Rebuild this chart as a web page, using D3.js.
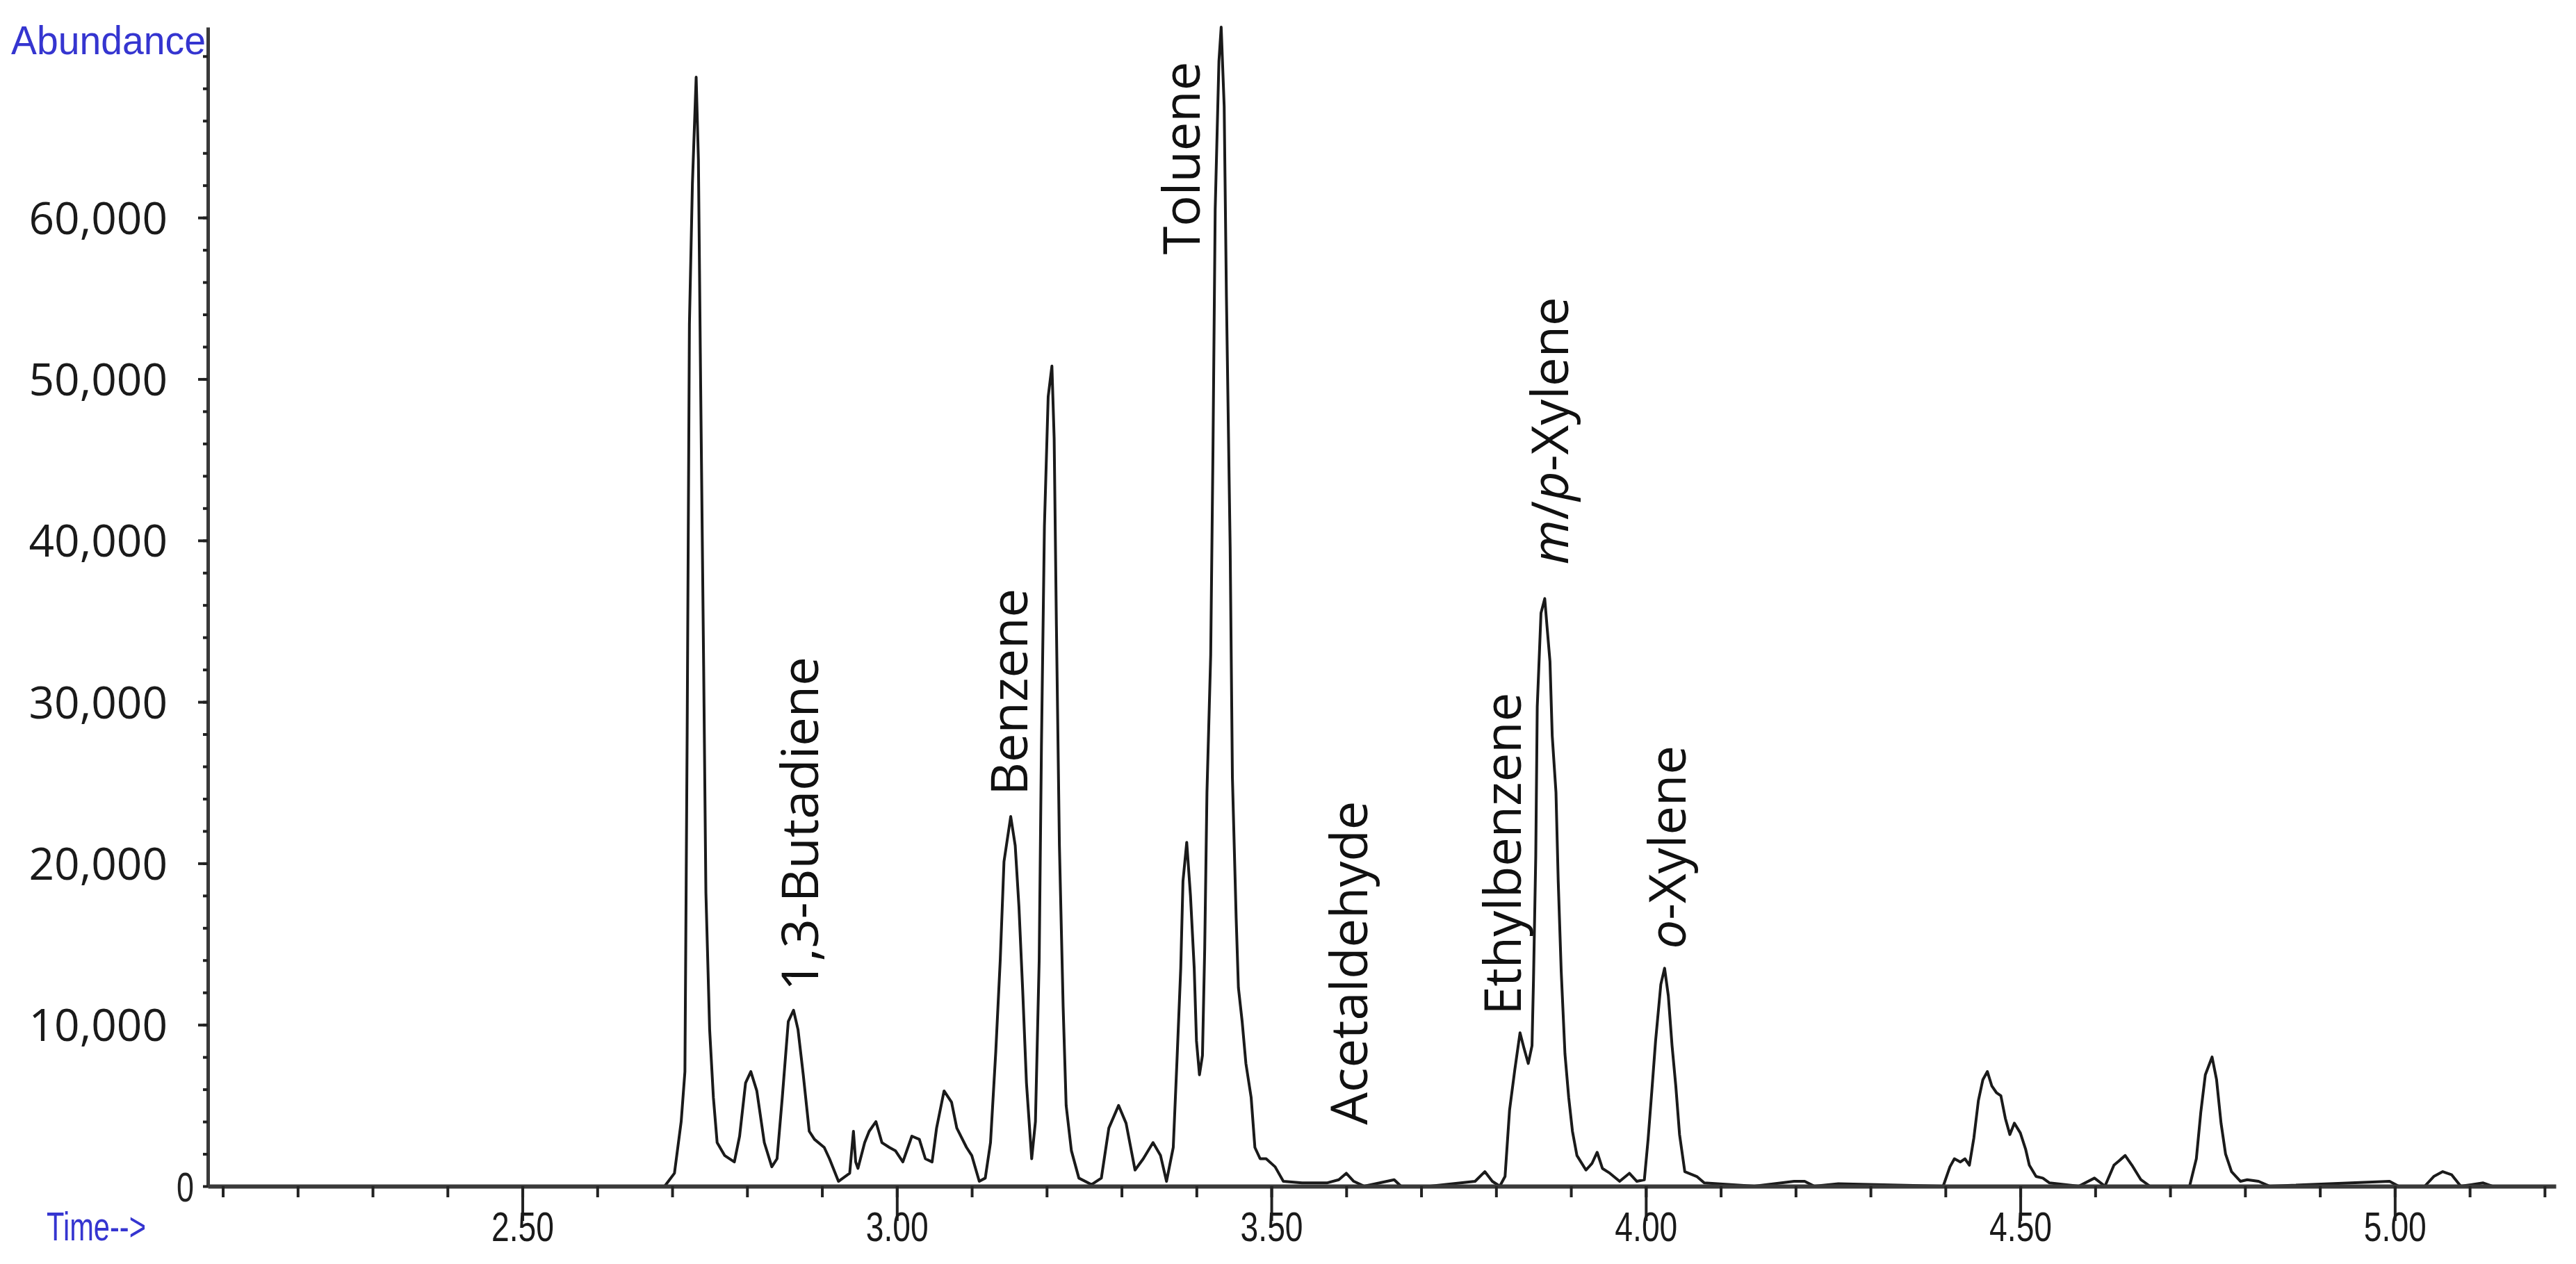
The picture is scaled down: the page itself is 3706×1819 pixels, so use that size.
<!DOCTYPE html>
<html>
<head>
<meta charset="utf-8">
<script src="https://d3js.org/d3.v7.min.js"></script>
<style>
  body { margin: 0; background: #fff; }
  svg { display: block; }
</style>
</head>
<body>
<svg width="3706" height="1819"></svg>
<script>
// chromatogram trace (time in min, abundance)
const time = [
  2.080, 2.690, 2.703, 2.712, 2.717, 2.720, 2.723, 2.727, 2.732, 2.735, 2.738, 2.742, 2.745, 2.750, 2.755, 2.760,
  2.770, 2.783, 2.790, 2.798, 2.805, 2.813, 2.823, 2.833, 2.840, 2.847, 2.855, 2.862, 2.868, 2.875, 2.883, 2.890,
  2.903, 2.910, 2.922, 2.937, 2.942, 2.945, 2.948, 2.957, 2.963, 2.972, 2.980, 2.990, 2.998, 3.008, 3.020, 3.030,
  3.038, 3.047, 3.053, 3.063, 3.073, 3.080, 3.093, 3.100, 3.110, 3.118, 3.125, 3.132, 3.138, 3.143, 3.152, 3.158,
  3.163, 3.168, 3.173, 3.180, 3.185, 3.190, 3.193, 3.197, 3.202, 3.207, 3.210, 3.213, 3.217, 3.222, 3.226, 3.233,
  3.243, 3.260, 3.273, 3.283, 3.296, 3.306, 3.318, 3.329, 3.342, 3.352, 3.360, 3.369, 3.374, 3.379, 3.382, 3.387,
  3.392, 3.397, 3.400, 3.404, 3.408, 3.411, 3.414, 3.419, 3.422, 3.425, 3.430, 3.433, 3.437, 3.440, 3.445, 3.448,
  3.453, 3.456, 3.461, 3.466, 3.473, 3.478, 3.485, 3.493, 3.505, 3.516, 3.541, 3.574, 3.590, 3.600, 3.610, 3.624,
  3.664, 3.673, 3.712, 3.772, 3.785, 3.795, 3.805, 3.812, 3.818, 3.825, 3.832, 3.837, 3.843, 3.848, 3.850, 3.853,
  3.855, 3.860, 3.865, 3.868, 3.872, 3.875, 3.880, 3.883, 3.887, 3.892, 3.897, 3.902, 3.908, 3.920, 3.928, 3.935,
  3.942, 3.952, 3.965, 3.978, 3.988, 3.998, 4.003, 4.008, 4.013, 4.020, 4.025, 4.030, 4.035, 4.040, 4.045, 4.052,
  4.068, 4.078, 4.145, 4.198, 4.212, 4.225, 4.257, 4.397, 4.406, 4.412, 4.420, 4.426, 4.432, 4.438, 4.444, 4.450,
  4.456, 4.462, 4.468, 4.474, 4.480, 4.486, 4.492, 4.500, 4.507, 4.512, 4.521, 4.530, 4.539, 4.578, 4.599, 4.613,
  4.625, 4.640, 4.649, 4.661, 4.673, 4.726, 4.735, 4.741, 4.747, 4.756, 4.762, 4.768, 4.774, 4.782, 4.794, 4.803,
  4.818, 4.833, 4.993, 5.005, 5.040, 5.052, 5.064, 5.076, 5.088, 5.118, 5.130, 5.215
];
const abundance = [
  0, 0, 800, 4000, 7100, 28100, 53400, 62100, 68700, 63600, 49600, 32200, 18200, 9700, 5500, 2700,
  1900, 1500, 3100, 6400, 7100, 5900, 2700, 1200, 1700, 5500, 10200, 10900, 9700, 6900, 3400, 2900,
  2400, 1700, 300, 800, 3400, 1500, 1100, 2700, 3400, 4000, 2700, 2400, 2200, 1500, 3100, 2900,
  1700, 1500, 3600, 5900, 5200, 3600, 2400, 1900, 300, 500, 2700, 8300, 14000, 20100, 22900, 21100,
  17300, 12100, 6400, 1700, 4000, 14000, 27200, 40900, 48900, 50800, 46300, 34700, 21100, 11100, 5000, 2200,
  500, 100, 500, 3600, 5000, 3900, 1000, 1700, 2700, 1900, 300, 2400, 7800, 13500, 18900, 21300,
  18000, 13500, 9000, 6900, 8100, 14700, 24400, 32900, 45400, 60500, 69700, 71800, 66900, 55100, 39500, 25300,
  16600, 12300, 10200, 7600, 5500, 2400, 1700, 1700, 1200, 300, 200, 200, 400, 800, 300, 0,
  400, 0, 0, 300, 900, 300, 0, 600, 4700, 7200, 9500, 8600, 7600, 8700, 12800, 20400,
  29700, 35500, 36400, 34700, 32500, 27900, 24400, 18900, 13300, 8200, 5500, 3400, 1900, 1000, 1400, 2100,
  1100, 800, 300, 800, 300, 400, 2900, 5900, 9000, 12500, 13500, 11800, 8700, 6200, 3200, 900,
  600, 200, 0, 300, 300, 0, 150, 0, 1200, 1700, 1500, 1700, 1300, 3000, 5300, 6600,
  7100, 6200, 5800, 5600, 4200, 3200, 3900, 3300, 2300, 1300, 600, 500, 200, 0, 500, 0,
  1300, 1900, 1300, 400, 0, 0, 1700, 4600, 6900, 8000, 6600, 3900, 2000, 900, 300, 400,
  300, 0, 300, 0, 0, 600, 900, 700, 0, 200, 0, 0
];

// axis ticks
const xMajorTicks = [2.5, 3.0, 3.5, 4.0, 4.5, 5.0];
const xMinorTicks = [2.1, 2.2, 2.3, 2.4, 2.5, 2.6, 2.7, 2.8, 2.9, 3.0, 3.1, 3.2, 3.3, 3.4, 3.5, 3.6,
  3.7, 3.8, 3.9, 4.0, 4.1, 4.2, 4.3, 4.4, 4.5, 4.6, 4.7, 4.8, 4.9, 5.0, 5.1, 5.2];
const yMajorTicks = [10000, 20000, 30000, 40000, 50000, 60000];
const yMinorTicks = d3.range(0, 72000, 2000);

// compound labels: text parts (italic flag), retention time and abundance of the label's foot
const labelParts = [
  [['1,3-Butadiene', false]],
  [['Benzene', false]],
  [['Toluene', false]],
  [['Acetaldehyde', false]],
  [['Ethylbenzene', false]],
  [['m', true], ['/', false], ['p', true], ['-Xylene', false]],
  [['o', true], ['-Xylene', false]]
];
const labelTime = [2.895, 3.174, 3.404, 3.628, 3.833, 3.896, 4.053];
const labelAbund = [12100, 24200, 57700, 3800, 10600, 38500, 14700];

const svg = d3.select('svg');

const x = d3.scaleLinear().domain([2.08, 5.215]).range([299, 3677]);
const y = d3.scaleLinear().domain([0, 71800]).range([1707, 39]);

// the instrument's own texts are in a tall narrow face: squeeze a plain sans to width
const instr = "'Liberation Sans', Arial, sans-serif";
const sans = "'Open Sans', 'Noto Sans', sans-serif";

// trace
const trace = time.map((t, i) => ({t: t, v: abundance[i]}));
const line = d3.line().x(d => x(d.t)).y(d => y(d.v));
svg.append('path')
  .datum(trace)
  .attr('fill', 'none')
  .attr('stroke', '#1a1a1a')
  .attr('stroke-width', 4)
  .attr('stroke-linejoin', 'round')
  .attr('d', line);

// x axis: minor ticks, then major ticks with labels
const xMinor = svg.append('g').attr('transform', 'translate(0,' + y(0) + ')')
  .call(d3.axisBottom(x).tickValues(xMinorTicks).tickSize(16).tickSizeOuter(0).tickFormat(''));
xMinor.select('.domain').attr('stroke', '#3a3a3a').attr('stroke-width', 6);
xMinor.selectAll('.tick line').attr('stroke', '#222').attr('stroke-width', 4);

const xMajor = svg.append('g').attr('transform', 'translate(0,' + y(0) + ')')
  .call(d3.axisBottom(x).tickValues(xMajorTicks).tickSize(50).tickSizeOuter(0).tickFormat(d3.format('.2f')));
xMajor.select('.domain').remove();
xMajor.selectAll('.tick line').attr('stroke', '#222').attr('stroke-width', 4);
xMajor.selectAll('.tick text')
  .attr('y', 58).attr('dy', '0.35em')
  .attr('fill', '#1a1a1a')
  .attr('textLength', 90).attr('lengthAdjust', 'spacingAndGlyphs')
  .style('font-family', instr).style('font-size', '60px');

// y axis
const yMinor = svg.append('g').attr('transform', 'translate(' + x(2.08) + ',0)')
  .call(d3.axisLeft(y).tickValues(yMinorTicks).tickSize(7).tickSizeOuter(0).tickFormat(''));
yMinor.select('.domain').attr('stroke', '#3a3a3a').attr('stroke-width', 5);
yMinor.selectAll('.tick line').attr('stroke', '#222').attr('stroke-width', 4);

const yMajor = svg.append('g').attr('transform', 'translate(' + x(2.08) + ',0)')
  .call(d3.axisLeft(y).tickValues(yMajorTicks).tickSize(14).tickSizeOuter(0).tickFormat(d3.format(',')));
yMajor.select('.domain').remove();
yMajor.selectAll('.tick line').attr('stroke', '#222').attr('stroke-width', 4);
yMajor.selectAll('.tick text')
  .attr('x', -58).attr('dy', '0.36em')
  .attr('fill', '#1a1a1a')
  .style('font-family', sans).style('font-size', '64px');

// zero label stays in the instrument's narrow face
svg.append('text')
  .attr('x', x(2.08) - 20).attr('y', y(0))
  .attr('dy', '0.36em')
  .attr('text-anchor', 'end')
  .attr('fill', '#222')
  .attr('textLength', 25).attr('lengthAdjust', 'spacingAndGlyphs')
  .style('font-family', instr).style('font-size', '60px')
  .text('0');

// axis titles
svg.append('text')
  .attr('x', 16).attr('y', 78)
  .attr('fill', '#3535d0')
  .attr('textLength', 280).attr('lengthAdjust', 'spacingAndGlyphs')
  .style('font-family', instr).style('font-size', '57px')
  .text('Abundance');
svg.append('text')
  .attr('x', 67).attr('y', 1785)
  .attr('fill', '#3535d0')
  .attr('textLength', 143).attr('lengthAdjust', 'spacingAndGlyphs')
  .style('font-family', instr).style('font-size', '57px')
  .text('Time-->');

// compound labels, rotated
const labels = svg.selectAll('.cmpd')
  .data(labelParts).enter()
  .append('text')
  .attr('class', 'cmpd')
  .attr('transform', (d, i) => 'translate(' + x(labelTime[i]) + ',' + y(labelAbund[i]) + ') rotate(-90)')
  .attr('fill', '#111')
  .style('font-family', sans).style('font-size', '74px');
labels.selectAll('tspan')
  .data(d => d).enter()
  .append('tspan')
  .style('font-style', d => d[1] ? 'italic' : 'normal')
  .text(d => d[0]);
</script>
</body>
</html>
